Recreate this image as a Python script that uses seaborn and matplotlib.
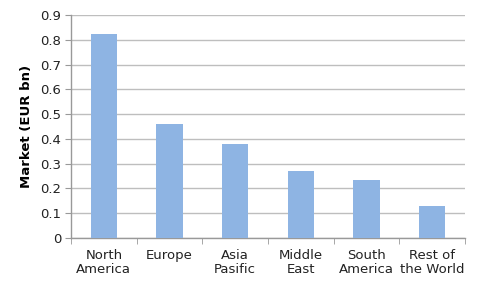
import matplotlib
matplotlib.use("Agg")
import matplotlib.pyplot as plt
import seaborn as sns
import pandas as pd
import numpy as np

categories = ["North\nAmerica", "Europe", "Asia\nPasific", "Middle\nEast", "South\nAmerica", "Rest of\nthe World"]
values = [0.823, 0.461, 0.379, 0.270, 0.234, 0.129]
yticks = [0, 0.1, 0.2, 0.3, 0.4, 0.5, 0.6, 0.7, 0.8, 0.9]
ytick_labels = ["0", "0.1", "0.2", "0.3", "0.4", "0.5", "0.6", "0.7", "0.8", "0.9"]

sns.set_style("white")
plt.rcParams['font.family'] = ['DejaVu Sans']

df = pd.DataFrame({"region": categories, "value": values})

fig = plt.figure(figsize=(4.8, 2.88), dpi=100)
ax = fig.add_axes([0.148, 0.174, 0.821, 0.774])
sns.barplot(data=df, x="region", y="value", color="#8EB4E3", saturation=1,
            width=0.4, ax=ax, zorder=3, edgecolor="none", linewidth=0)

ax.set_ylim(0, 0.9)
ax.set_xlim(-0.5, len(categories) - 0.5)
ax.set_yticks(yticks)
ax.set_yticklabels(ytick_labels, fontsize=9.5, color="#222222")
ax.yaxis.grid(True, color="#BEBEBE", linewidth=1, zorder=0)
ax.set_axisbelow(True)

ax.set_xticks(range(len(categories)))
ax.set_xticklabels(categories, fontsize=9.5, color="#222222", linespacing=1.15)
ax.tick_params(axis="x", length=0, pad=8)
ax.tick_params(axis="y", length=4, color="#999999", direction="out", left=True, pad=3)
ax.set_xticks(np.arange(-0.5, len(categories), 1.0), minor=True)
ax.tick_params(axis="x", which="minor", length=4, color="#999999", direction="out", bottom=True)

for s in ["top", "right"]:
    ax.spines[s].set_visible(False)
for s in ["left", "bottom"]:
    ax.spines[s].set_visible(True)
    ax.spines[s].set_color("#999999")
    ax.spines[s].set_linewidth(1)

ax.set_xlabel("")
ax.set_ylabel("Market (EUR bn)", fontsize=9.5, fontweight="bold", color="#000000", labelpad=5)

fig.savefig("out.png", dpi=100)
